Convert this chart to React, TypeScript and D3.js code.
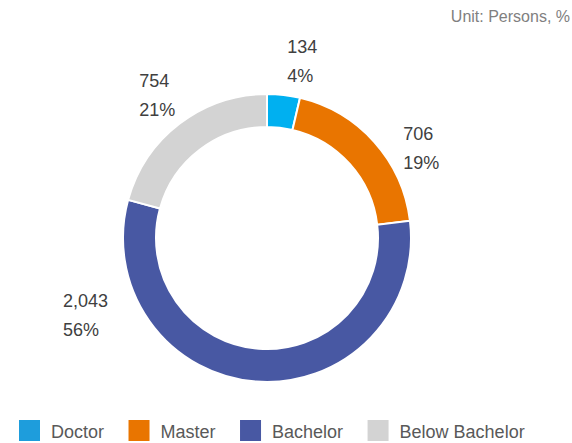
import React from 'react';
import * as d3 from 'd3';

// canvas
const width = 572;
const height = 443;

// data
const categories = ['Doctor', 'Master', 'Bachelor', 'Below Bachelor'];
const persons = [134, 706, 2043, 754];
const sliceColors = ['#00B0F0', '#E97500', '#4858A3', '#D3D3D3'];
const legendColors = ['#1E9DDC', '#E97500', '#4858A3', '#D3D3D3'];

// donut
const centerX = 267;
const centerY = 238;
const outerRadius = 144;
const innerRadius = 111;
const labelRadius = 176;

// label nudges from the label-arc centroid (Excel style placement)
const labelNudge = [
  { dx: 0, dy: -10 },
  { dx: 5, dy: 19 },
  { dx: -191, dy: -107 },
  { dx: -21, dy: -11 },
];

const fontFamily = '"Liberation Sans", Arial, sans-serif';
const labelSize = 18;
const lineGap = 29;
const legendSize = 18;

const total = d3.sum(persons);
const fmt = d3.format(',');

const pie = d3
  .pie<number>()
  .sort(null)
  .value((d) => d);

const arcs = pie(persons);

const sliceArc = d3
  .arc<d3.PieArcDatum<number>>()
  .innerRadius(innerRadius)
  .outerRadius(outerRadius);

const labelArc = d3
  .arc<d3.PieArcDatum<number>>()
  .innerRadius(labelRadius)
  .outerRadius(labelRadius);

// legend text widths
const measure = (text: string) => {
  const ctx = document.createElement('canvas').getContext('2d');
  if (!ctx) return text.length * legendSize * 0.55;
  ctx.font = `${legendSize}px ${fontFamily}`;
  return ctx.measureText(text).width;
};

const legendStart = 19;
const legendY = 420;
const swatch = 21;
const swatchGap = 11;
const itemGap = 24.5;
const legendX: number[] = [];
categories.reduce((x, c) => {
  legendX.push(x);
  return x + swatch + swatchGap + measure(c) + itemGap;
}, legendStart);

const App = () => (
  <svg width={width} height={height} style={{ position: 'absolute', left: 0, top: 0 }}>
    <rect width={width} height={height} fill="#ffffff" />
    <text
      x={570}
      y={22}
      textAnchor="end"
      fontFamily={fontFamily}
      fontSize={16}
      fill="#808080"
    >
      Unit: Persons, %
    </text>
    <g transform={`translate(${centerX},${centerY})`}>
      {arcs.map((a, i) => (
        <path
          key={categories[i]}
          d={sliceArc(a) || ''}
          fill={sliceColors[i]}
          stroke="#ffffff"
          strokeWidth={2}
        />
      ))}
      {arcs.map((a, i) => {
        const [lx, ly] = labelArc.centroid(a);
        const x = lx + labelNudge[i].dx;
        const y = ly + labelNudge[i].dy;
        return (
          <g key={categories[i]} fontFamily={fontFamily} fontSize={labelSize} fill="#404040">
            <text x={x} y={y}>
              {fmt(persons[i])}
            </text>
            <text x={x} y={y + lineGap}>
              {`${Math.round((persons[i] / total) * 100)}%`}
            </text>
          </g>
        );
      })}
    </g>
    <g>
      {categories.map((c, i) => (
        <g key={c}>
          <rect x={legendX[i]} y={legendY} width={swatch} height={swatch} fill={legendColors[i]} />
          <text
            x={legendX[i] + swatch + swatchGap}
            y={legendY + 18}
            fontFamily={fontFamily}
            fontSize={legendSize}
            fill="#595959"
          >
            {c}
          </text>
        </g>
      ))}
    </g>
  </svg>
);

export default App;
